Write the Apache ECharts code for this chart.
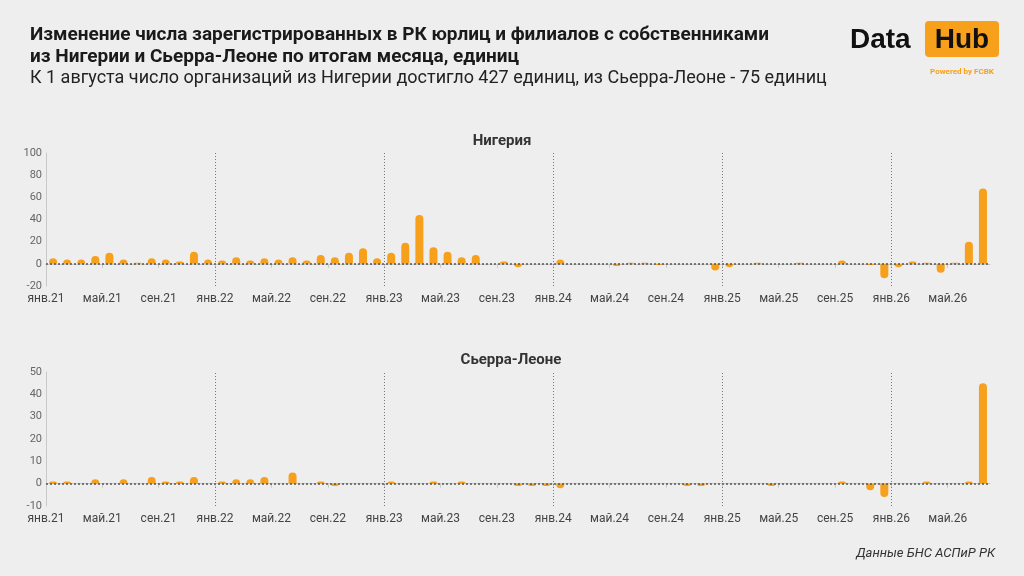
<!DOCTYPE html>
<html>
<head>
<meta charset="utf-8">
<script src="https://cdn.jsdelivr.net/npm/echarts@6/dist/echarts.min.js"></script>
<style>
  html, body { margin: 0; padding: 0; background: #eeeeee; }
  #chart { width: 1024px; height: 576px; }
</style>
</head>
<body>
<div id="chart"></div>
<script>
// Подписи оси X (каждые 4 месяца, с янв.21)
const tickLabels = ['янв.21', 'май.21', 'сен.21', 'янв.22', 'май.22', 'сен.22', 'янв.23', 'май.23', 'сен.23',
  'янв.24', 'май.24', 'сен.24', 'янв.25', 'май.25', 'сен.25', 'янв.26', 'май.26'];

// Помесячное изменение, янв.21 ... июл.26 (67 месяцев)
const nigeria = [
  5, 4, 4, 7, 10, 4, 1, 5, 4, 2, 11, 4,
  3, 6, 3, 5, 4, 6, 3, 8, 6, 10, 14, 5,
  10, 19, 44, 15, 11, 6, 8, 0, 2, -3, 0, 0,
  4, 0, 0, 0, -2, 1, 1, -1, 0, 0, 0, -6,
  -3, 0, 1, 0, 0, 1, 0, 0, 3, 0, -1, -13,
  -3, 2, 1, -8, 1, 20, 68
];
const sierraLeone = [
  1, 1, 0, 2, 0, 2, 0, 3, 1, 1, 3, 0,
  1, 2, 2, 3, 0, 5, 0, 1, -1, 0, 0, 0,
  1, 0, 0, 1, 0, 1, 0, 0, 0, -1, -1, -1,
  -2, 0, 0, 0, 0, 0, 0, 0, 0, -1, -1, 0,
  0, 0, 0, -1, 0, 0, 0, 0, 1, 0, -3, -6,
  0, 0, 1, 0, 0, 1, 45
];
// Индексы январей (вертикальные пунктиры)
const januaryIdx = [12, 24, 36, 48, 60];

const BAR = '#f7a01b';
const FONT = 'Roboto, sans-serif';
const N = nigeria.length;

function barData(arr) {
  // бар ставим в середину месяца
  return arr.map((v, i) => ({
    value: [i + 0.5, v],
    itemStyle: { borderRadius: v < 0 ? [0, 0, 4, 4] : [4, 4, 0, 0] }
  }));
}

function xAxisCfg(gridIndex) {
  return {
    type: 'value',
    gridIndex: gridIndex,
    min: 0,
    max: N,
    interval: 4,
    axisLine: { show: true, lineStyle: { color: '#c9c9c9', width: 1 } },
    axisTick: { show: true, length: 4, lineStyle: { color: '#c9c9c9' } },
    axisLabel: {
      color: '#444', fontSize: 12, fontFamily: FONT, margin: 7,
      showMaxLabel: false,
      formatter: v => (v % 4 === 0 && tickLabels[v / 4]) ? tickLabels[v / 4] : ''
    },
    splitLine: { show: false }
  };
}

function yAxisCfg(gridIndex, min, max, interval) {
  return {
    type: 'value',
    gridIndex: gridIndex,
    min: min,
    max: max,
    interval: interval,
    axisLine: { show: true, lineStyle: { color: '#c9c9c9' } },
    axisTick: { show: false },
    axisLabel: { color: '#666', fontSize: 11, fontFamily: FONT, margin: 4 },
    splitLine: { show: false }
  };
}

function markLines() {
  return {
    silent: true,
    symbol: ['none', 'none'],
    label: { show: false },
    animation: false,
    data: [
      { yAxis: 0, lineStyle: { color: '#555', width: 1.5, type: [2, 2] } }
    ].concat(januaryIdx.map(x => ({ xAxis: x, lineStyle: { color: '#777', width: 1, type: [1, 2] } })))
  };
}

const chart = echarts.init(document.getElementById('chart'));
chart.setOption({
  backgroundColor: '#eeeeee',
  animation: false,
  textStyle: { fontFamily: FONT },
  title: [
    {
      text: 'Изменение числа зарегистрированных в РК юрлиц и филиалов с собственниками\nиз Нигерии и Сьерра-Леоне по итогам месяца, единиц',
      left: 30, top: 24, padding: 0,
      textStyle: { fontSize: 19, fontWeight: 'bold', color: '#1a1a1a', lineHeight: 22, fontFamily: FONT }
    },
    {
      text: 'К 1 августа число организаций из Нигерии достигло 427 единиц, из Сьерра-Леоне - 75 единиц',
      left: 30, top: 67, padding: 0,
      textStyle: { fontSize: 18, fontWeight: 'normal', color: '#222', lineHeight: 22, fontFamily: FONT }
    }
  ],
  grid: [
    { left: 46, right: 34, top: 153, height: 133 },
    { left: 46, right: 34, top: 372, height: 134 }
  ],
  xAxis: [xAxisCfg(0), xAxisCfg(1)],
  yAxis: [yAxisCfg(0, -20, 100, 20), yAxisCfg(1, -10, 50, 10)],
  series: [
    {
      type: 'bar', xAxisIndex: 0, yAxisIndex: 0, barWidth: 8,
      itemStyle: { color: BAR },
      data: barData(nigeria),
      markLine: markLines()
    },
    {
      type: 'bar', xAxisIndex: 1, yAxisIndex: 1, barWidth: 8,
      itemStyle: { color: BAR },
      data: barData(sierraLeone),
      markLine: markLines()
    }
  ],
  graphic: [
    { type: 'text', x: 502, y: 141, style: { text: 'Нигерия', align: 'center', verticalAlign: 'middle', fontSize: 15, fontWeight: 'bold', fontFamily: FONT, fill: '#333' } },
    { type: 'text', x: 511, y: 360, style: { text: 'Сьерра-Леоне', align: 'center', verticalAlign: 'middle', fontSize: 15, fontWeight: 'bold', fontFamily: FONT, fill: '#333' } },
    // логотип
    { type: 'text', x: 850, y: 40, style: { text: 'Data', align: 'left', verticalAlign: 'middle', fontSize: 28, fontWeight: 'bold', fontFamily: 'Liberation Sans, Arial, sans-serif', fill: '#111' } },
    { type: 'rect', shape: { x: 925, y: 21, width: 74, height: 36, r: 4 }, style: { fill: '#f7a01b' } },
    { type: 'text', x: 962, y: 40, style: { text: 'Hub', align: 'center', verticalAlign: 'middle', fontSize: 28, fontWeight: 'bold', fontFamily: 'Liberation Sans, Arial, sans-serif', fill: '#111' } },
    { type: 'text', x: 962, y: 72, style: { text: 'Powered by FCBK', align: 'center', verticalAlign: 'middle', fontSize: 8, fontWeight: 'bold', fontFamily: FONT, fill: '#f7a01b' } },
    // источник
    { type: 'text', x: 995, y: 554, style: { text: 'Данные БНС АСПиР РК', align: 'right', verticalAlign: 'middle', fontSize: 13, fontStyle: 'italic', fontFamily: FONT, fill: '#333' } }
  ]
});
</script>
</body>
</html>
